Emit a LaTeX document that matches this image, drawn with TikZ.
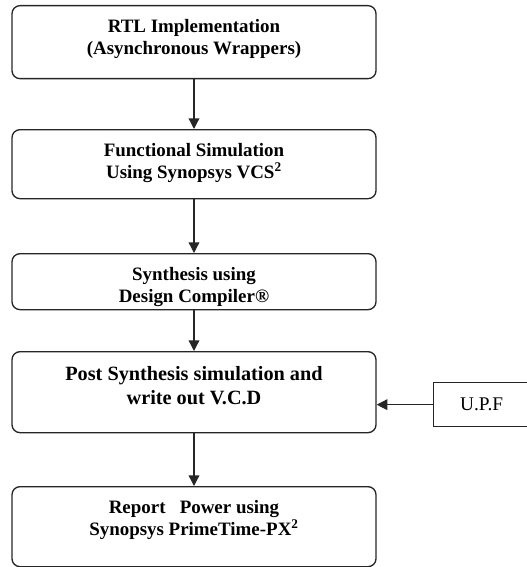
\documentclass[tikz,border=0pt]{standalone}
\usepackage{fontspec}
\setmainfont{Liberation Serif}
\usetikzlibrary{arrows.meta}

\begin{document}
\begin{tikzpicture}[x=0.75pt,y=-0.75pt,
		stage/.style={draw=black!85, line width=1pt, rounded corners=6pt, align=center,
			minimum width=273pt, inner ysep=0pt, text height=36.75pt,
			font=\fontsize{14.2}{16.5}\selectfont\bfseries},
		flow/.style={-{Triangle[width=8pt,length=8pt]}, line width=1pt, black!85}]
		\useasboundingbox (0,0) rectangle (527,567);
		% ===== Design flow stages =====
		\node[stage, text depth=18pt, anchor=north] (rtl) at (194,5) {RTL Implementation\\(Asynchronous Wrappers)};
		\node[stage, text depth=15pt, anchor=north] (funcsim) at (194,129) {Functional Simulation\\Using Synopsys VCS\textsuperscript{2}};
		\node[stage, text depth=5.25pt, anchor=north] (synth) at (194,253) {Synthesis using\\Design Compiler®};
		\node[stage, text height=39.75pt, text depth=21pt, anchor=north,
			font=\fontsize{15.2}{18}\selectfont\bfseries] (postsim) at (194,351) {Post Synthesis simulation and\\write out V.C.D};
		\node[stage, text depth=23.25pt, anchor=north] (power) at (194,486) {Report\ \ \ Power using\\Synopsys PrimeTime-PX\textsuperscript{2}};
		% ===== Side input =====
		\node[draw=black!85, line width=1pt, anchor=north west, minimum width=72pt, minimum height=33pt,
			font=\fontsize{14.5}{16}\selectfont] (upf) at (433,382) {U.P.F};
		% ===== Connectors =====
		\draw[flow] (rtl.south) -- (funcsim.north);
		\draw[flow] (funcsim.south) -- (synth.north);
		\draw[flow] (synth.south) -- (postsim.north);
		\draw[flow] (postsim.south) -- (power.north);
		\draw[flow] (upf.west) -- (upf.west -| postsim.east);
	\end{tikzpicture}
\end{document}
